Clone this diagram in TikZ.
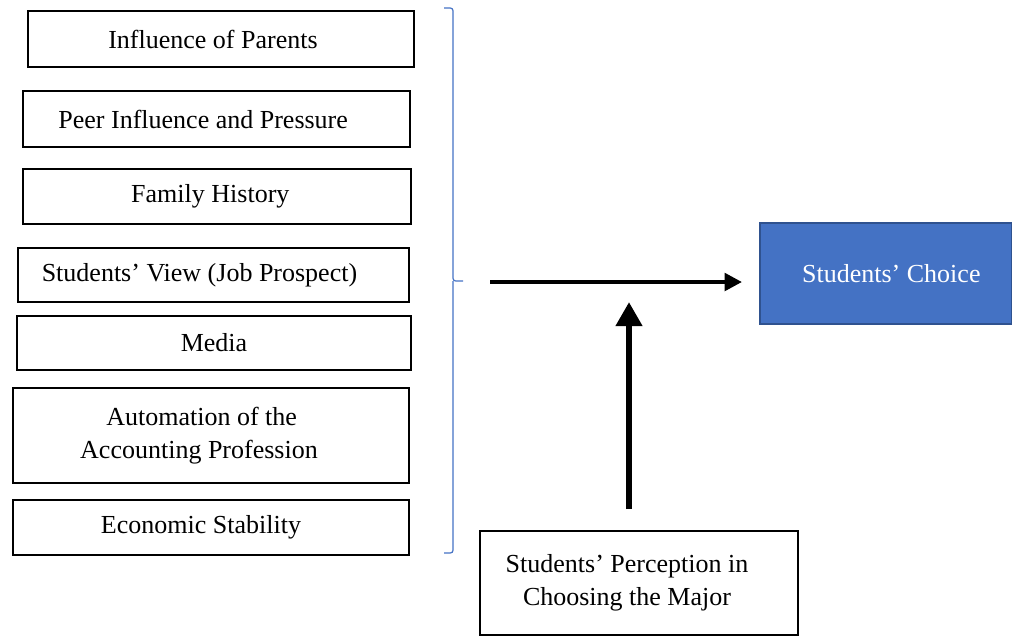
\documentclass[tikz,border=0pt]{standalone}
\usepackage{fontspec}
\setmainfont{Liberation Serif}
\usetikzlibrary{positioning, arrows.meta, calc}
\definecolor{choiceblue}{HTML}{4472C4}
\definecolor{choiceedge}{HTML}{2F528F}

\begin{document}
\begin{tikzpicture}[
  x=0.75pt, y=-0.75pt,
  every node/.style={font=\fontsize{19.5}{25}\selectfont},
  factor/.style={draw, line width=1.5pt, inner sep=0pt, align=center},
  choicebox/.style={draw=choiceedge, fill=choiceblue, line width=1.5pt,
                    text=white, inner sep=0pt},
  bigarrow/.style={line width=3pt, -{Triangle[length=13pt, width=13pt]}}
]
\useasboundingbox (0,0) rectangle (1012,637);

% factors
\node[factor, minimum width=386*0.75pt, minimum height=56*0.75pt] (parents) at (221,39) {Influence of Parents\hspace{12pt}};
\node[factor, minimum width=387*0.75pt, minimum height=56*0.75pt] (peer) at (216.5,119) {Peer Influence and Pressure\hspace{20pt}};
\node[factor, minimum width=388*0.75pt, minimum height=55*0.75pt] (family) at (217,196.5) {Family History\hspace{10pt}};
\node[factor, minimum width=391*0.75pt, minimum height=54*0.75pt] (view) at (213.5,275) {Students' View (Job Prospect)\hspace{21pt}};
\node[factor, minimum width=394*0.75pt, minimum height=54*0.75pt] (media) at (214,343) {Media};
\node[factor, minimum width=396*0.75pt, minimum height=95*0.75pt] (automation) at (211,435.5) {Automation of the\hspace*{14pt}\\Accounting Profession\hspace*{18pt}};
\node[factor, minimum width=396*0.75pt, minimum height=55*0.75pt] (economy) at (211,527.5) {Economic Stability\hspace{15pt}};

% brace
\draw[choiceblue, line width=0.9pt, rounded corners=2pt]
  (444,8) -- (453,8) -- (453,281) -- (463,281)
  (453,281) -- (453,553) -- (444,553);
\coordinate (start) at (490,282);

% outcome and moderator
\node[choicebox, minimum width=252*0.75pt, minimum height=101*0.75pt] (choice) at (886,273.5) {\hspace{8pt}Students' Choice};
\node[factor, minimum width=318*0.75pt, minimum height=104*0.75pt] (perception) at (639,583) {Students' Perception in\hspace*{18pt}\\Choosing the Major\hspace*{18pt}};

% connectors
\draw[bigarrow, shorten >=17*0.75pt] (start) -- (start -| choice.west);
\draw[line width=4.5pt, -{Triangle[length=18pt, width=19pt]}, shorten <=21*0.75pt, shorten >=20*0.75pt]
  (perception.north -| 629,0) -- (629,282);
\end{tikzpicture}
\end{document}
